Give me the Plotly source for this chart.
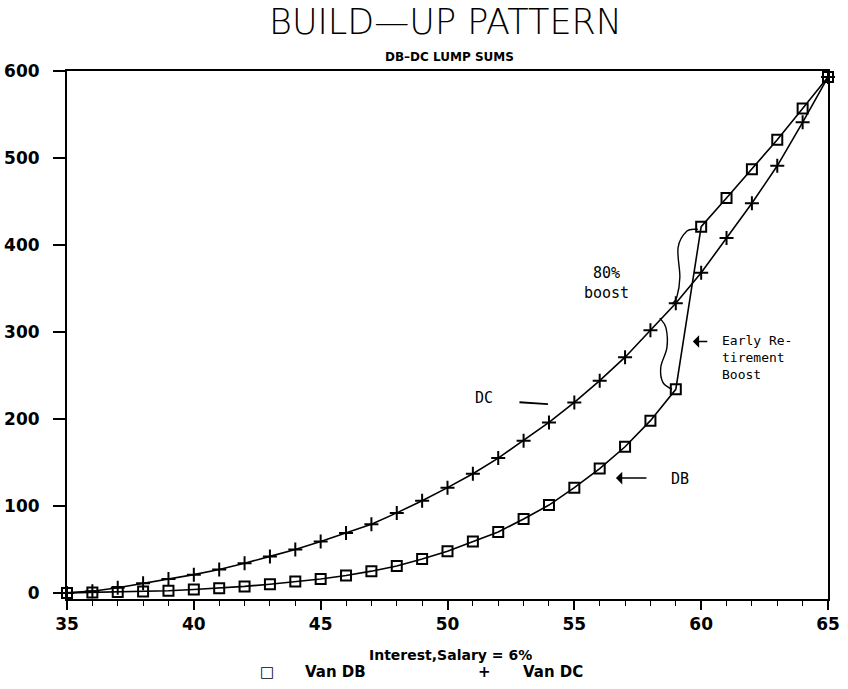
import plotly.graph_objects as go

# ---------------- data ----------------
ages = list(range(35, 66))
van_db = [0, 0.5, 1, 1.5, 2.5, 4, 5.5, 7.5, 10, 13, 16, 20, 25, 31, 39, 48,
          59, 70, 85, 101, 121, 143, 168, 198, 234, 421, 454, 487, 521, 557, 593]
van_dc = [0, 2, 6, 11, 16, 21, 27, 34, 42, 50, 59, 69, 79, 92, 106, 121,
          137, 155, 175, 196, 219, 244, 271, 302, 333, 368, 408, 448, 491, 541, 593]
x_ticks = [35, 40, 45, 50, 55, 60, 65]
y_ticks = [0, 100, 200, 300, 400, 500, 600]

# hand-drawn braces (annotation decoration, data coordinates)
brace_upper = [(59.87, 418), (59.44, 416), (59.09, 397), (59.16, 363), (59.04, 340), (58.85, 332)]
brace_lower = [(58.37, 316), (58.61, 305), (58.65, 282), (58.41, 260), (58.49, 242), (58.85, 234)]

W, H = 848, 689
ML, MR, MT, MB = 67, 20, 71, 90
PW, PH = W - ML - MR, H - MT - MB

TICK_FONT = dict(family="DejaVu Sans", size=17, color="black", weight="bold")
HAND_FONT = dict(family="DejaVu Sans Mono", size=13, color="black")


def px_x(px):
    """picture x pixel -> paper fraction"""
    return (px - ML) / PW


def px_y(py):
    """picture y pixel -> paper fraction"""
    return (H - MB - py) / PH


def smooth_path(pts):
    """Catmull-Rom spline through pts -> SVG cubic path."""
    d = f"M {pts[0][0]},{pts[0][1]}"
    n = len(pts)
    for i in range(n - 1):
        p0 = pts[i - 1] if i > 0 else pts[i]
        p1 = pts[i]
        p2 = pts[i + 1]
        p3 = pts[i + 2] if i + 2 < n else pts[i + 1]
        c1 = (p1[0] + (p2[0] - p0[0]) / 6, p1[1] + (p2[1] - p0[1]) / 6)
        c2 = (p2[0] - (p3[0] - p1[0]) / 6, p2[1] - (p3[1] - p1[1]) / 6)
        d += f" C {c1[0]},{c1[1]} {c2[0]},{c2[1]} {p2[0]},{p2[1]}"
    return d


fig = go.Figure()

fig.add_trace(go.Scatter(
    x=ages, y=van_dc, mode="lines+markers", name="Van DC",
    line=dict(color="black", width=1.6),
    marker=dict(symbol="cross-thin", size=10, line=dict(color="black", width=2)),
    cliponaxis=False, showlegend=False,
))
fig.add_trace(go.Scatter(
    x=ages, y=van_db, mode="lines+markers", name="Van DB",
    line=dict(color="black", width=1.6),
    marker=dict(symbol="square-open", size=10, color="black", line=dict(color="black", width=2)),
    cliponaxis=False, showlegend=False,
))

fig.update_layout(
    width=W, height=H,
    margin=dict(l=ML, r=MR, t=MT, b=MB, autoexpand=False),
    paper_bgcolor="white", plot_bgcolor="white",
    showlegend=False,
    xaxis=dict(
        range=[35, 65], tickvals=x_ticks, ticks="outside", ticklen=9, tickwidth=1.5,
        tickcolor="black", showgrid=False, zeroline=False, automargin=False,
        showline=True, linecolor="black", linewidth=2, mirror=True,
        tickfont=TICK_FONT, ticklabelstandoff=0,
        minor=dict(dtick=1, ticks="outside", ticklen=5, tickwidth=1.2, tickcolor="black", showgrid=False),
    ),
    yaxis=dict(
        range=[-7, 600], tickvals=y_ticks, ticks="outside", ticklen=12, tickwidth=1.5,
        tickcolor="black", showgrid=False, zeroline=False, automargin=False,
        showline=True, linecolor="black", linewidth=2, mirror=True,
        tickfont=TICK_FONT, ticklabelstandoff=10,
    ),
)

# titles
fig.add_annotation(text="BUILD\u2014UP PATTERN", xref="paper", yref="paper",
                   x=px_x(445), y=px_y(22), yanchor="middle", showarrow=False,
                   font=dict(family="DejaVu Sans", size=35, color="black", weight=200))
fig.add_annotation(text="DB\u2013DC LUMP SUMS", xref="paper", yref="paper",
                   x=px_x(449), y=px_y(57), yanchor="middle", showarrow=False,
                   font=dict(family="DejaVu Sans", size=12, color="black", weight="bold"))
fig.add_annotation(text="Interest,Salary = 6%", xref="paper", yref="paper",
                   x=px_x(450), y=px_y(655), yanchor="middle", showarrow=False,
                   font=dict(family="DejaVu Sans", size=14, color="black", weight="bold"))

# legend row
legend_font = dict(family="DejaVu Sans", size=15, color="black", weight="bold")
ly = px_y(672)
fig.add_annotation(text="\u25a1", xref="paper", yref="paper", x=px_x(258), y=ly, yanchor="middle",
                   showarrow=False, font=legend_font)
fig.add_annotation(text="Van DB", xref="paper", yref="paper", x=px_x(303), y=ly, yanchor="middle",
                   xanchor="left", showarrow=False, font=legend_font)
fig.add_annotation(text="+", xref="paper", yref="paper", x=px_x(484), y=ly, yanchor="middle",
                   showarrow=False, font=legend_font)
fig.add_annotation(text="Van DC", xref="paper", yref="paper", x=px_x(521), y=ly, yanchor="middle",
                   xanchor="left", showarrow=False, font=legend_font)

# hand-written notes
fig.add_annotation(text="DC", x=51.44, y=224, showarrow=False,
                   font=dict(family="DejaVu Sans Mono", size=15, color="black"))
fig.add_annotation(text="", x=53.96, y=217, ax=-30, ay=-2, showarrow=True,
                   arrowhead=0, arrowwidth=1.8, arrowcolor="black")
fig.add_annotation(text="DB", x=59.16, y=131, showarrow=False,
                   font=dict(family="DejaVu Sans Mono", size=15, color="black"))
fig.add_annotation(text="", x=56.64, y=132, ax=32, ay=0, showarrow=True,
                   arrowhead=1, arrowsize=1.4, arrowwidth=1.5, arrowcolor="black")
fig.add_annotation(text="80%<br>boost", x=56.28, y=356, showarrow=False,
                   font=dict(family="DejaVu Sans Mono", size=15, color="black"))
fig.add_annotation(text="Early Re-<br>tirement<br>Boost", x=60.74, y=271, xanchor="left",
                   align="left", showarrow=False, font=HAND_FONT)
fig.add_annotation(text="", x=59.67, y=289, ax=16, ay=0, showarrow=True,
                   arrowhead=1, arrowsize=1.4, arrowwidth=1.5, arrowcolor="black")

for pts in (brace_upper, brace_lower):
    fig.add_shape(type="path", path=smooth_path(pts), xref="x", yref="y",
                  line=dict(color="black", width=1.4))

# the page's default 8px body margin would shift the figure; remove it
fig.write_html("out.html", config={"displayModeBar": False},
               post_script="document.body.style.margin='0px';")
